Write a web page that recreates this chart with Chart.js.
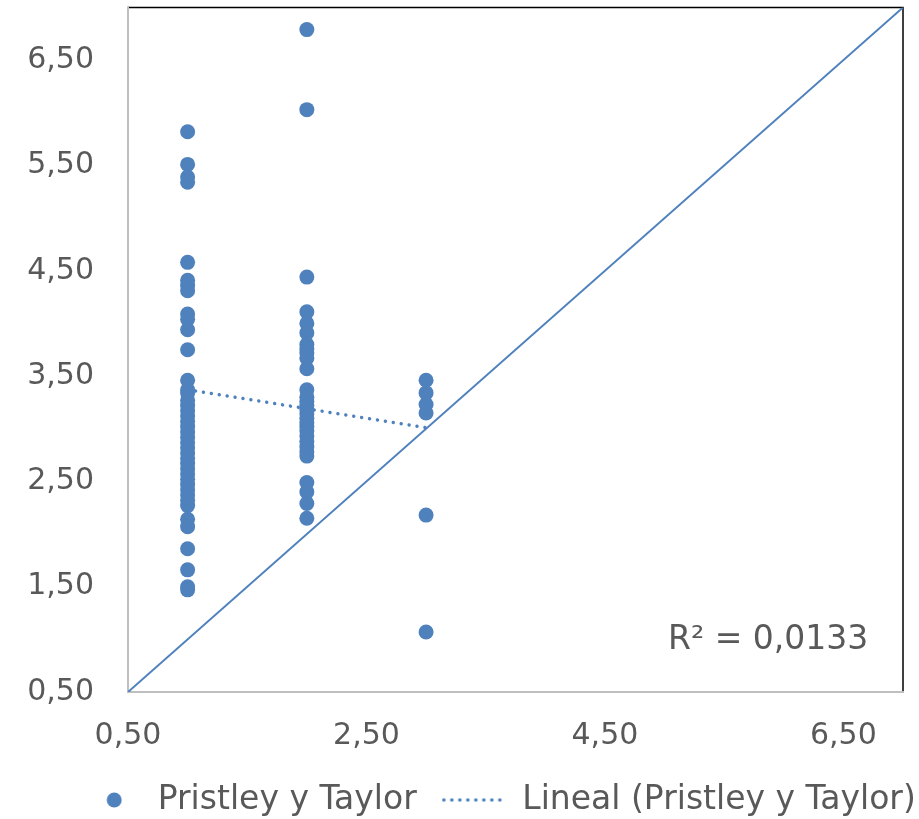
<!DOCTYPE html>
<html>
<head>
<meta charset="utf-8">
<script src="https://cdn.jsdelivr.net/npm/chart.js@4/dist/chart.umd.min.js"></script>
<style>
  html, body { margin: 0; padding: 0; background: #fff; }
  #wrap { width: 919px; height: 819px; }
</style>
</head>
<body>
<div id="wrap"><canvas id="chart"></canvas></div>
<script>
// ---------- data ----------
const seriesName = 'Pristley y Taylor';
const trendName = 'Lineal (Pristley y Taylor)';
const rSquaredLabel = 'R² = 0,0133';

// observed x groups
const groupX = [1, 2, 3];
// y values for each group
const yAtX1 = [5.82, 5.51, 5.39, 5.34, 4.58, 4.41, 4.36, 4.31, 4.09, 4.04, 3.94, 3.75,
  3.46, 3.37, 3.34, 3.27, 3.22, 3.17, 3.12, 3.07, 3.02, 2.97, 2.92, 2.87, 2.82, 2.77,
  2.72, 2.67, 2.62, 2.57, 2.52, 2.47, 2.42, 2.37, 2.32, 2.27, 2.14, 2.07, 1.86, 1.66, 1.50, 1.47];
const yAtX2 = [6.79, 6.03, 4.44, 4.11, 4.00, 3.91, 3.80, 3.76, 3.72, 3.67, 3.57, 3.37,
  3.30, 3.26, 3.22, 3.18, 3.14, 3.10, 3.06, 3.02, 2.98, 2.93, 2.88, 2.83, 2.78, 2.74,
  2.49, 2.40, 2.29, 2.15];
const yAtX3 = [3.46, 3.34, 3.23, 3.15, 2.18, 1.07];

// linear trend line end points (as drawn)
const trendX = [1, 3];
const trendY = [3.37, 3.01];

// 1:1 reference line
const refLineX = [0.5, 7];
const refLineY = [0.5, 7];

// axes
const axisMin = 0.5;
const axisMax = 7;
const xTicks = [0.5, 2.5, 4.5, 6.5];
const yTicks = [0.5, 1.5, 2.5, 3.5, 4.5, 5.5, 6.5];

// ---------- styles ----------
const blue = '#4F81BD';
const grey = '#595959';
const fontFamily = '"DejaVu Sans", Verdana, sans-serif';
const legendShift = 45;

// ---------- helpers ----------
function toPoints(xs, ys) { return xs.map((x, i) => ({ x: x, y: ys[i] })); }
function fmt(v) { return v.toFixed(2).replace('.', ','); }

const scatterPoints = [];
[yAtX1, yAtX2, yAtX3].forEach((ys, g) => {
  ys.forEach(y => scatterPoints.push({ x: groupX[g], y: y }));
});

// legend symbols
function circleSymbol() {
  const c = document.createElement('canvas');
  c.width = 26; c.height = 16;
  const g = c.getContext('2d');
  g.fillStyle = blue;
  g.beginPath(); g.arc(18, 8, 7.5, 0, Math.PI * 2); g.fill();
  return c;
}
function dottedSymbol() {
  const c = document.createElement('canvas');
  c.width = 64; c.height = 6;
  const g = c.getContext('2d');
  g.fillStyle = blue;
  for (let x = 2; x < 64; x += 8) { g.beginPath(); g.arc(x, 3, 1.8, 0, Math.PI * 2); g.fill(); }
  return c;
}
const symbols = [circleSymbol(), dottedSymbol()];

// frame + R² label
const framePlugin = {
  id: 'frame',
  beforeDraw(chart) {
    const { ctx, chartArea: a } = chart;
    ctx.save();
    ctx.strokeStyle = '#000';
    ctx.lineWidth = 1.5;
    ctx.strokeRect(a.left, a.top, a.right - a.left, a.bottom - a.top);
    ctx.restore();
  },
  afterLayout(chart) {
    if (chart.legend) { chart.legend.left += legendShift; chart.legend.right += legendShift; }
  },
  afterDatasetsDraw(chart) {
    const { ctx, chartArea: a } = chart;
    ctx.save();
    ctx.font = '33px ' + fontFamily;
    ctx.fillStyle = grey;
    ctx.textAlign = 'left';
    ctx.textBaseline = 'middle';
    ctx.fillText(rSquaredLabel, a.right - 235, a.bottom - 52);
    ctx.restore();
  }
};

function noPadding(scale) {
  scale.paddingLeft = 0; scale.paddingRight = 0;
  scale.paddingTop = 0; scale.paddingBottom = 0;
}

new Chart(document.getElementById('chart'), {
  type: 'scatter',
  data: {
    datasets: [
      {
        label: seriesName,
        data: scatterPoints,
        backgroundColor: blue,
        borderWidth: 0,
        pointRadius: 7.5,
        pointHoverRadius: 7.5
      },
      {
        type: 'line',
        label: trendName,
        data: toPoints(trendX, trendY),
        borderColor: blue,
        borderWidth: 3.5,
        borderDash: [0.01, 8],
        borderCapStyle: 'round',
        pointRadius: 0,
        fill: false
      },
      {
        type: 'line',
        label: 'ref',
        data: toPoints(refLineX, refLineY),
        borderColor: blue,
        borderWidth: 2,
        pointRadius: 0,
        fill: false
      }
    ]
  },
  options: {
    responsive: true,
    maintainAspectRatio: false,
    animation: false,
    layout: { padding: { left: 0, right: 16, top: 6, bottom: -7.5 } },
    plugins: {
      tooltip: { enabled: false },
      legend: {
        position: 'bottom',
        labels: {
          usePointStyle: true,
          pointStyleWidth: 64,
          padding: 25,
          color: grey,
          font: { family: fontFamily, size: 33 },
          generateLabels(chart) {
            const items = Chart.defaults.plugins.legend.labels.generateLabels(chart)
              .filter(it => it.datasetIndex < 2);
            items.forEach((it, i) => { it.pointStyle = symbols[i]; it.lineWidth = 0; });
            return items;
          }
        }
      }
    },
    scales: {
      x: {
        type: 'linear',
        min: axisMin,
        max: axisMax,
        grid: { display: false, drawTicks: false },
        border: { display: true, color: '#bfbfbf', width: 2 },
        afterBuildTicks(scale) { scale.ticks = xTicks.map(v => ({ value: v })); },
        afterFit(scale) { noPadding(scale); scale.height = 66.5; },
        ticks: {
          padding: 21,
          color: grey,
          font: { family: fontFamily, size: 30, lineHeight: 1.5667 },
          maxRotation: 0,
          autoSkip: false,
          callback: v => fmt(v)
        }
      },
      y: {
        type: 'linear',
        min: axisMin,
        max: axisMax,
        grid: { display: false, drawTicks: false },
        border: { display: true, color: '#bfbfbf', width: 2 },
        afterBuildTicks(scale) { scale.ticks = yTicks.map(v => ({ value: v })); },
        afterFit(scale) { noPadding(scale); scale.width = 128; },
        ticks: {
          padding: 34,
          color: grey,
          font: { family: fontFamily, size: 30 },
          autoSkip: false,
          callback: v => fmt(v)
        }
      }
    }
  },
  plugins: [framePlugin]
});
</script>
</body>
</html>
